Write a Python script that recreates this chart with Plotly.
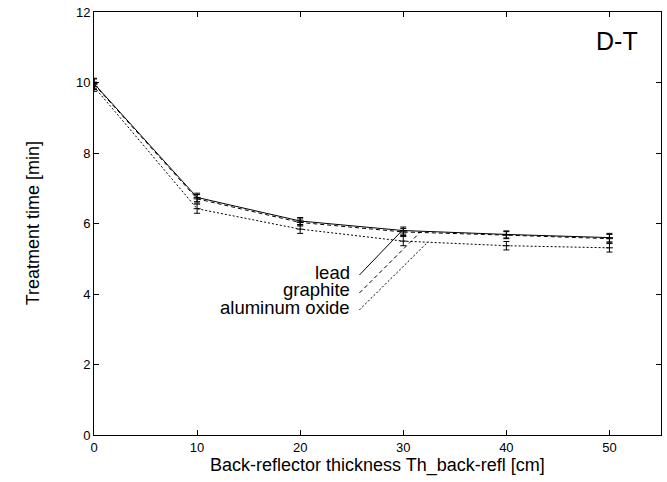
import plotly.graph_objects as go

# Data
thickness = [0, 10, 20, 30, 40, 50]
lead = [9.97, 6.74, 6.07, 5.80, 5.69, 5.60]
lead_err = [0.15, 0.12, 0.10, 0.10, 0.10, 0.12]
graphite = [9.95, 6.70, 6.03, 5.76, 5.67, 5.57]
graphite_err = [0.15, 0.12, 0.10, 0.10, 0.10, 0.12]
alox = [9.88, 6.42, 5.84, 5.50, 5.37, 5.31]
alox_err = [0.13, 0.13, 0.12, 0.13, 0.12, 0.12]

labels = ["lead", "graphite", "aluminum oxide"]
dashes = ["solid", "4px,3px", "2px,2px"]
# label pointer lines: start (near text) and end (on curve)
ptr_x0 = [25.75, 25.75, 25.75]
ptr_y0 = [4.54, 4.03, 3.55]
ptr_x1 = [29.95, 31.7, 32.4]
ptr_y1 = [5.82, 5.77, 5.48]
label_x = [25.0, 25.0, 25.0]
label_y = [4.62, 4.12, 3.62]

FONT = "Liberation Sans, Arial, Helvetica, sans-serif"

fig = go.Figure()
series = [lead, graphite, alox]
errs = [lead_err, graphite_err, alox_err]
for ys, es, name, d in zip(series, errs, labels, dashes):
    fig.add_trace(go.Scatter(
        x=thickness, y=ys, mode="lines", name=name,
        line=dict(color="black", width=1, dash=d),
        showlegend=False,
    ))
    fig.add_trace(go.Scatter(
        x=thickness, y=ys, mode="markers",
        marker=dict(symbol="line-ew-open", size=5, color="black",
                    line=dict(color="black", width=1)),
        error_y=dict(type="data", array=es, visible=True,
                     color="black", thickness=1, width=3),
        showlegend=False, hoverinfo="skip",
    ))

for i in range(3):
    fig.add_trace(go.Scatter(
        x=[ptr_x0[i], ptr_x1[i]], y=[ptr_y0[i], ptr_y1[i]], mode="lines",
        line=dict(color="black", width=1, dash=dashes[i]),
        showlegend=False, hoverinfo="skip",
    ))
    fig.add_annotation(x=label_x[i], y=label_y[i], xref="x", yref="y",
                       text=labels[i], showarrow=False, xanchor="right",
                       yanchor="middle",
                       font=dict(family=FONT, size=18.5, color="black"))

fig.add_annotation(x=0.963, y=0.932, xref="paper", yref="paper", text="D-T",
                   showarrow=False, xanchor="right", yanchor="middle",
                   font=dict(family=FONT, size=25, color="black"))

fig.add_annotation(x=-0.108, y=0.5, xref="paper", yref="paper",
                   text="Treatment time [min]", textangle=-90,
                   showarrow=False, xanchor="center", yanchor="middle",
                   font=dict(family=FONT, size=18, color="black"))
fig.add_annotation(x=0.5, y=-0.073, xref="paper", yref="paper",
                   text="Back-reflector thickness Th_back-refl [cm]",
                   showarrow=False, xanchor="center", yanchor="middle",
                   font=dict(family=FONT, size=18, color="black"))

axis_common = dict(showgrid=False, zeroline=False, showline=True,
                   linecolor="black", linewidth=1, mirror="allticks",
                   ticks="inside", ticklen=5, tickcolor="black",
                   tickfont=dict(family=FONT, size=13, color="black"))
fig.update_xaxes(range=[0, 55], tickvals=[0, 10, 20, 30, 40, 50], **axis_common)
fig.update_yaxes(range=[0, 12], tickvals=[0, 2, 4, 6, 8, 10, 12], **axis_common)

fig.update_layout(
    width=667, height=482,
    margin=dict(l=94, r=6, t=12, b=47),
    plot_bgcolor="white", paper_bgcolor="white",
    font=dict(family=FONT, color="black"),
)

fig.write_html("out.html", config={"displayModeBar": False},
               post_script="document.body.style.margin='0';document.body.style.overflow='hidden';")
